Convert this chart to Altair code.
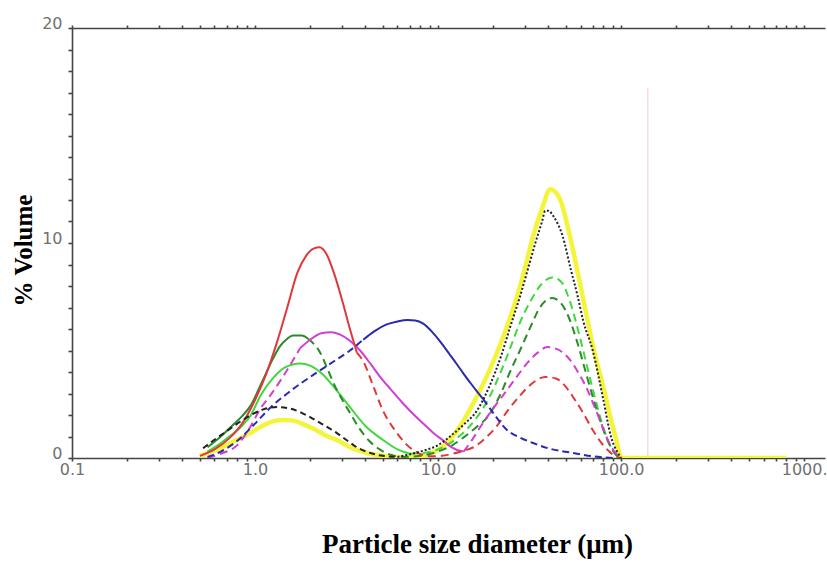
import altair as alt
import pandas as pd

# ---------------- data ----------------
# yellow, thick solid
yellow_x = [0.5, 0.6, 0.7, 0.8, 0.94, 1.1, 1.25, 1.42, 1.6, 1.8, 2.1, 2.5, 2.8, 3.3, 4.1, 5.0, 6.2, 7.5, 9.0,
            10.5, 12, 13.7, 15.6, 18, 21, 24, 27, 30, 33, 37, 41, 46, 52.6, 59, 65.6, 72, 80, 88, 95, 100,
            200, 400, 800]
yellow_y = [0.1, 0.35, 0.6, 0.85, 1.16, 1.5, 1.7, 1.77, 1.75, 1.6, 1.35, 1.0, 0.84, 0.5, 0.23, 0.1, 0.03, 0.06, 0.2,
            0.5, 1.0, 1.7, 2.56, 3.6, 4.9, 6.2, 7.5, 8.9, 10.3, 11.6, 12.5, 12.1, 10.3, 8.3, 6.4, 4.8, 3.3, 1.8, 0.7, 0.0,
            0.0, 0.0, 0.0]

# red: solid fine mode, dashed afterwards
red_fine_x = [0.5, 0.6, 0.72, 0.85, 1.0, 1.15, 1.32, 1.5, 1.7, 1.9, 2.1, 2.25, 2.45, 2.7, 3.0, 3.3, 3.6]
red_fine_y = [0.1, 0.4, 0.9, 1.6, 2.7, 3.9, 5.4, 7.0, 8.6, 9.4, 9.75, 9.8, 9.5, 8.6, 7.3, 6.0, 4.9]
red_coarse_x = [3.6, 3.9, 4.4, 5.0, 5.8, 6.6, 7.3, 8.2, 9.2, 10.5, 12, 14, 15.6, 18, 21, 24, 28, 33, 38.5,
                44, 50, 56, 62, 70, 78, 85, 92, 100]
red_coarse_y = [4.9, 4.5, 3.4, 2.2, 1.3, 0.7, 0.37, 0.15, 0.08, 0.1, 0.2, 0.35, 0.5, 0.9, 1.5, 2.2, 2.9, 3.5, 3.77,
                3.7, 3.3, 2.7, 2.1, 1.3, 0.7, 0.35, 0.1, 0.0]

# blue: dashed, solid middle, dashed tail
blue_a_x = [0.55, 0.65, 0.8, 1.0, 1.25, 1.5, 1.8, 2.2, 2.7, 3.3, 3.9]
blue_a_y = [0.05, 0.3, 0.8, 1.6, 2.45, 3.0, 3.5, 4.0, 4.5, 5.0, 5.5]
blue_b_x = [3.9, 4.5, 5.2, 6.0, 6.8, 7.5, 8.3, 9.2, 10.3, 11.5, 12.7, 13.7, 15.0, 16.3, 17.6]
blue_b_y = [5.5, 5.9, 6.2, 6.35, 6.42, 6.4, 6.25, 5.9, 5.4, 4.85, 4.35, 3.95, 3.5, 3.1, 2.75]
blue_c_x = [17.6, 20, 23.8, 28, 33, 40, 50.7, 60, 70, 80, 90]
blue_c_y = [2.75, 2.1, 1.3, 0.95, 0.7, 0.45, 0.28, 0.17, 0.08, 0.03, 0.0]

# magenta: dashed start, solid fine mode, dashed coarse mode
mag_a_x = [0.55, 0.65, 0.8, 0.95, 1.07, 1.21, 1.4, 1.6, 1.76]
mag_a_y = [0.0, 0.2, 0.6, 1.5, 2.3, 2.9, 3.7, 4.5, 5.1]
mag_b_x = [1.76, 2.0, 2.3, 2.6, 2.9, 3.3, 3.75, 4.3, 4.8, 5.5, 6.4, 7.5, 8.7, 9.6, 10.6, 11.6, 12.7, 13.8]
mag_b_y = [5.1, 5.5, 5.8, 5.85, 5.75, 5.45, 5.0, 4.35, 3.8, 3.2, 2.56, 1.95, 1.44, 1.1, 0.84, 0.55, 0.37, 0.3]
mag_c_x = [13.8, 15.5, 17, 20, 23.8, 27, 30.6, 35, 39.5, 45, 52.6, 59, 65.6, 71, 76.6, 84, 92, 100]
mag_c_y = [0.3, 0.9, 1.44, 2.3, 3.16, 3.8, 4.4, 4.9, 5.16, 5.05, 4.56, 3.9, 3.16, 2.45, 1.77, 0.9, 0.3, 0.0]

# dark green: solid fine, dashed afterwards
dg_a_x = [0.55, 0.65, 0.75, 0.85, 0.94, 1.1, 1.25, 1.37, 1.5, 1.61, 1.8, 1.95]
dg_a_y = [0.5, 1.0, 1.5, 1.95, 2.4, 3.6, 4.6, 5.2, 5.55, 5.7, 5.7, 5.55]
dg_b_x = [1.95, 2.1, 2.27, 2.5, 2.8, 3.0, 3.3, 3.7, 4.2, 4.8, 5.5, 6.5, 8, 10, 12, 14, 16, 19, 22, 25, 28, 32,
          36, 42, 47, 52, 58, 65, 72, 80, 88, 95, 100]
dg_b_y = [5.55, 5.3, 4.9, 4.1, 3.16, 2.7, 2.1, 1.4, 0.8, 0.4, 0.15, 0.05, 0.1, 0.3, 0.6, 1.0, 1.4, 2.0, 3.0, 4.1,
          5.0, 6.1, 7.0, 7.44, 7.2, 6.5, 5.3, 3.8, 2.5, 1.3, 0.5, 0.1, 0.0]

# light green: solid fine, dashed coarse
lg_a_x = [0.55, 0.65, 0.75, 0.85, 0.95, 1.07, 1.25, 1.45, 1.76, 2.0, 2.3, 2.7, 3.3, 4.0, 5.0, 6.0, 7.0]
lg_a_y = [0.3, 0.7, 1.1, 1.5, 2.0, 2.9, 3.7, 4.2, 4.4, 4.3, 3.95, 3.3, 2.37, 1.5, 0.84, 0.4, 0.2]
lg_b_x = [7.0, 8.5, 10, 13, 16, 19, 22, 25, 28, 32, 36, 42, 47, 52, 58, 65, 72, 80, 88, 95, 100]
lg_b_y = [0.2, 0.25, 0.4, 1.0, 1.8, 2.8, 4.0, 5.2, 6.3, 7.3, 8.0, 8.4, 8.2, 7.4, 6.0, 4.3, 2.8, 1.4, 0.5, 0.1, 0.0]

# black: dashed fine mode, dotted coarse mode
bk_a_x = [0.52, 0.6, 0.7, 0.8, 0.95, 1.1, 1.32, 1.55, 1.8, 2.0, 2.3, 2.8, 3.2, 3.6, 4.2, 5.0, 6.0]
bk_a_y = [0.45, 0.85, 1.25, 1.6, 2.0, 2.25, 2.37, 2.3, 2.1, 1.9, 1.6, 1.16, 0.8, 0.5, 0.25, 0.1, 0.05]
bk_b_x = [6.0, 8, 10, 12, 14, 16.3, 19, 22, 25, 28, 31, 34, 37, 38.5, 40, 43, 48, 53, 58, 62, 70, 80, 88, 95, 100]
bk_b_y = [0.05, 0.3, 0.6, 1.1, 1.6, 2.2, 3.3, 4.7, 6.2, 7.5, 8.8, 10.0, 11.0, 11.5, 11.5, 11.2, 10.3, 8.8, 7.5, 6.4, 5.0, 2.7, 1.0, 0.3, 0.0]

# faint vertical marker
marker_x = [140]
marker_y = [17.2]

x_ticks = [0.1, 0.2, 0.3, 0.4, 0.5, 0.6, 0.7, 0.8, 0.9,
           1, 2, 3, 4, 5, 6, 7, 8, 9,
           10, 20, 30, 40, 50, 60, 70, 80, 90,
           100, 200, 300, 400, 500, 600, 700, 800, 900, 1000]
y_ticks = list(range(0, 21))

# ---------------- chart ----------------
xscale = alt.Scale(type="log", domain=[0.1, 1300], nice=False)
yscale = alt.Scale(domain=[0, 20], nice=False, zero=False)

label_expr_x = ("datum.value == 0.1 ? '0.1' : datum.value == 1 ? '1.0' : datum.value == 10 ? '10.0' : "
                "datum.value == 100 ? '100.0' : datum.value == 1000 ? '1000.' : ''")

axis_common = dict(domainColor="#444444", domainWidth=1.6, tickColor="#444444", tickWidth=1.6,
                   labelColor="#707070", labelFont="DejaVu Sans", labelFontSize=16,
                   grid=False)

bottom_axis = alt.Axis(values=x_ticks, labelExpr=label_expr_x, tickSize=3, labelPadding=0,
                       labelOverlap=False, labelFlush=False, orient="bottom",
                       title="Particle size diameter (μm)", titleFont="Liberation Serif",
                       titleFontSize=27, titleFontWeight="bold", titleColor="#000000",
                       titleX=405, titleY=94, titleBaseline="alphabetic", titleAnchor="middle",
                       **axis_common)
top_axis = alt.Axis(values=x_ticks, labels=False, tickSize=3, orient="top", title=None,
                    **axis_common)
y_axis = alt.Axis(values=y_ticks, labelExpr="datum.value % 10 == 0 ? datum.value : ''",
                  tickSize=4, labelPadding=6, labelBaseline="alphabetic", labelOverlap=False,
                  title="% Volume", titleFont="Liberation Serif", titleFontSize=25,
                  titleFontWeight="bold", titleColor="#000000", titleX=-41, titleY=222,
                  titleAngle=-90, titleBaseline="alphabetic",
                  **axis_common)


def seg(xs, ys, color, dash, width, xaxis=None):
    df = pd.DataFrame({"x": xs, "y": ys})
    kw = dict(interpolate="monotone", color=color, strokeWidth=width, clip=True)
    if dash:
        kw["strokeDash"] = dash
    return alt.Chart(df).mark_line(**kw).encode(
        x=alt.X("x:Q", scale=xscale, axis=xaxis),
        y=alt.Y("y:Q", scale=yscale, axis=y_axis),
        order="x:Q",
    )


RED = "#e0383a"
BLUE = "#2a2aae"
MAG = "#d23ed2"
DG = "#2b8a2b"
LG = "#3fd83f"
BK = "#222222"
YEL = "#f4f43a"

top_layer = alt.Chart(pd.DataFrame({"x": [800], "y": [0]})).mark_point(opacity=0).encode(
    x=alt.X("x:Q", scale=xscale, axis=top_axis),
    y=alt.Y("y:Q", scale=yscale, axis=y_axis),
)

marker = alt.Chart(pd.DataFrame({"x": marker_x, "y": marker_y})).mark_rule(
    color="#f8c8c8", strokeWidth=1).encode(
    x=alt.X("x:Q", scale=xscale, axis=None),
    y=alt.Y("y:Q", scale=yscale, axis=y_axis),
    y2=alt.datum(0),
)

layers = [
    marker,
    seg(yellow_x, yellow_y, YEL, None, 4.5, xaxis=bottom_axis),
    top_layer,
    seg(lg_a_x, lg_a_y, LG, None, 2),
    seg(lg_b_x, lg_b_y, LG, [8, 5], 2),
    seg(dg_a_x, dg_a_y, DG, None, 2),
    seg(dg_b_x, dg_b_y, DG, [8, 5], 2),
    seg(mag_a_x, mag_a_y, MAG, [8, 5], 2),
    seg(mag_b_x, mag_b_y, MAG, None, 2),
    seg(mag_c_x, mag_c_y, MAG, [8, 5], 2),
    seg(red_fine_x, red_fine_y, RED, None, 2),
    seg(red_coarse_x, red_coarse_y, RED, [8, 5], 2),
    seg(blue_a_x, blue_a_y, BLUE, [7, 4], 2),
    seg(blue_b_x, blue_b_y, BLUE, None, 2),
    seg(blue_c_x, blue_c_y, BLUE, [7, 4], 2),
    seg(bk_a_x, bk_a_y, BK, [6, 4], 2),
    seg(bk_b_x, bk_b_y, BK, [2, 2], 2),
]

chart = alt.layer(*layers).resolve_axis(x="independent").properties(
    width=753, height=430,
    autosize=alt.AutoSizeParams(type="none"),
    padding={"left": 72, "top": 28, "right": 2, "bottom": 113},
    background="white",
).configure_view(stroke=None)

chart.save("out.html", embed_options={"renderer": "svg", "actions": False})
